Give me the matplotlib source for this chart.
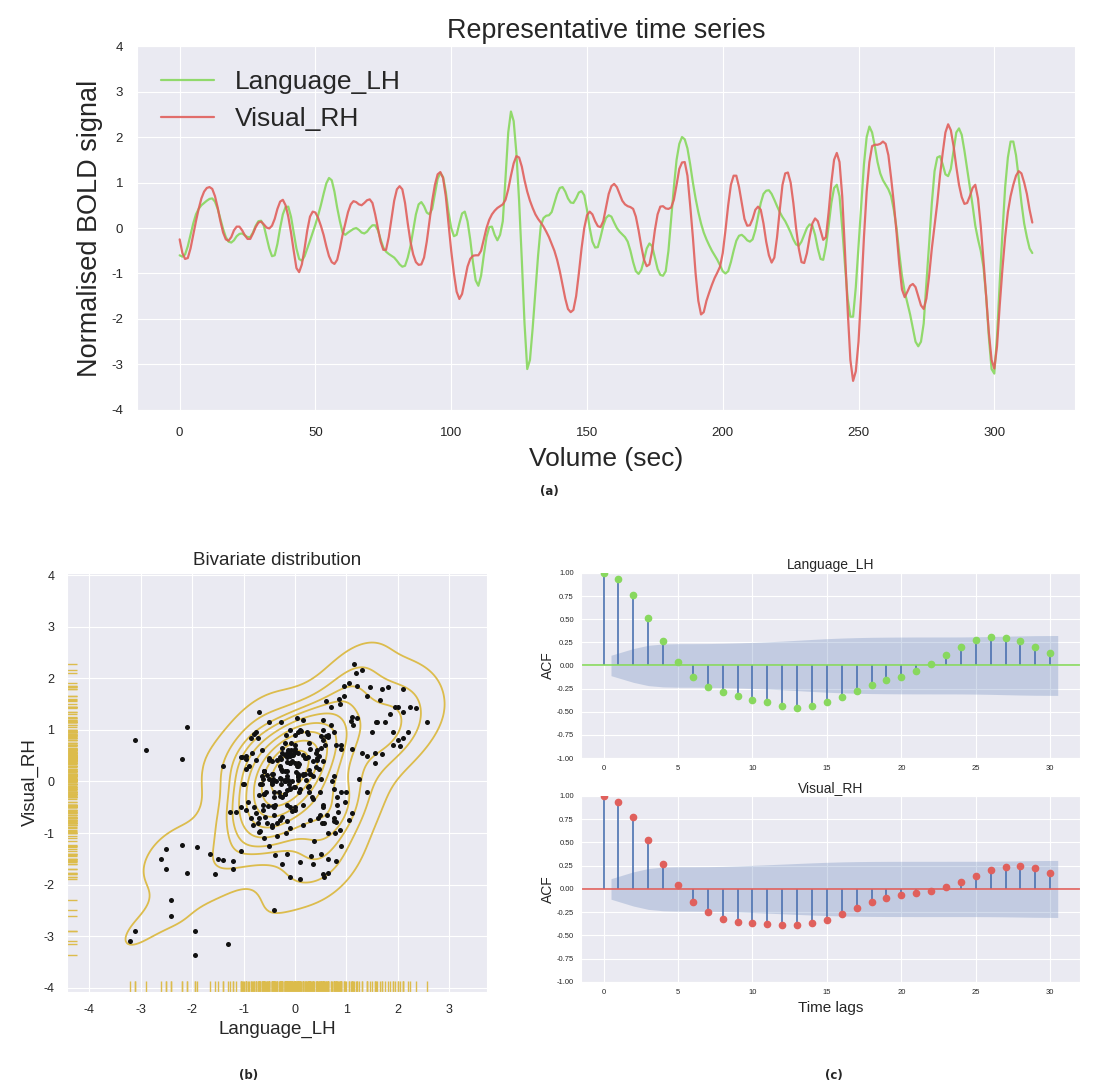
import numpy as np
import matplotlib
matplotlib.use("Agg")
import matplotlib.pyplot as plt
import seaborn as sns

# ---------------- data ----------------
volumes = list(range(315))

language_lh = [
    -0.60, -0.63, -0.58, -0.40, -0.15, 0.10, 0.30, 0.42, 0.50, 0.55,
    0.60, 0.64, 0.65, 0.58, 0.42, 0.20, -0.02, -0.20, -0.30, -0.32,
    -0.27, -0.18, -0.13, -0.12, -0.16, -0.20, -0.20, -0.10, 0.05, 0.15,
    0.16, 0.05, -0.20, -0.45, -0.62, -0.60, -0.35, 0.00, 0.30, 0.46,
    0.47, 0.25, -0.10, -0.45, -0.68, -0.72, -0.62, -0.45, -0.28, -0.10,
    0.08, 0.28, 0.50, 0.75, 0.98, 1.10, 1.05, 0.80, 0.45, 0.15,
    -0.10, -0.15, -0.10, -0.06, -0.02, 0.00, -0.04, -0.10, -0.12, -0.08,
    0.00, 0.06, 0.06, -0.05, -0.25, -0.43, -0.52, -0.57, -0.61, -0.65,
    -0.72, -0.80, -0.85, -0.83, -0.65, -0.40, -0.05, 0.30, 0.52, 0.57,
    0.48, 0.34, 0.30, 0.42, 0.75, 1.08, 1.21, 1.12, 0.80, 0.35,
    0.00, -0.18, -0.15, 0.10, 0.32, 0.36, 0.15, -0.25, -0.75, -1.15,
    -1.27, -1.05, -0.60, -0.20, 0.02, 0.03, -0.15, -0.27, -0.15, 0.15,
    1.10, 2.10, 2.56, 2.35, 1.65, 0.60, -0.70, -2.10, -3.10, -2.90,
    -2.20, -1.40, -0.60, 0.05, 0.22, 0.27, 0.28, 0.35, 0.55, 0.75,
    0.88, 0.90, 0.80, 0.65, 0.56, 0.55, 0.65, 0.78, 0.81, 0.72,
    0.40, 0.00, -0.30, -0.43, -0.42, -0.20, 0.05, 0.22, 0.28, 0.25,
    0.12, 0.00, -0.08, -0.14, -0.20, -0.30, -0.50, -0.75, -0.95, -1.01,
    -0.92, -0.70, -0.45, -0.34, -0.40, -0.65, -0.90, -1.03, -1.05, -0.95,
    -0.50, 0.20, 0.90, 1.50, 1.85, 2.00, 1.95, 1.75, 1.40, 1.00,
    0.65, 0.35, 0.10, -0.10, -0.25, -0.38, -0.50, -0.60, -0.70, -0.82,
    -0.95, -1.00, -0.95, -0.75, -0.50, -0.28, -0.17, -0.15, -0.20, -0.27,
    -0.30, -0.25, -0.05, 0.25, 0.55, 0.75, 0.82, 0.83, 0.75, 0.62,
    0.48, 0.35, 0.24, 0.15, 0.03, -0.10, -0.25, -0.36, -0.39, -0.30,
    -0.15, 0.00, 0.08, 0.05, -0.15, -0.45, -0.68, -0.70, -0.40, 0.05,
    0.55, 0.88, 0.95, 0.70, 0.00, -0.80, -1.55, -1.95, -1.95, -1.30,
    -0.40, 0.50, 1.40, 2.00, 2.23, 2.10, 1.80, 1.45, 1.20, 1.05,
    0.95, 0.85, 0.70, 0.40, 0.00, -0.55, -1.05, -1.40, -1.65, -1.90,
    -2.20, -2.50, -2.60, -2.50, -2.10, -1.20, -0.35, 0.55, 1.25, 1.55,
    1.58, 1.40, 1.18, 1.14, 1.30, 1.70, 2.10, 2.19, 2.05, 1.70,
    1.30, 0.90, 0.50, 0.05, -0.25, -0.50, -0.85, -1.50, -2.40, -3.10,
    -3.20, -2.40, -1.20, -0.10, 0.90, 1.55, 1.90, 1.90, 1.60, 1.10,
    0.55, 0.10, -0.20, -0.45, -0.55,
]

visual_rh = [
    -0.25, -0.55, -0.68, -0.66, -0.45, -0.15, 0.15, 0.42, 0.65, 0.80,
    0.88, 0.90, 0.86, 0.70, 0.45, 0.15, -0.10, -0.25, -0.28, -0.20,
    -0.05, 0.03, 0.03, -0.05, -0.16, -0.24, -0.24, -0.12, 0.02, 0.12,
    0.14, 0.08, 0.01, -0.01, 0.05, 0.20, 0.42, 0.58, 0.62, 0.50,
    0.25, -0.10, -0.50, -0.88, -0.97, -0.80, -0.45, -0.05, 0.25, 0.36,
    0.34, 0.22, 0.05, -0.15, -0.40, -0.62, -0.75, -0.79, -0.70, -0.45,
    -0.15, 0.10, 0.35, 0.52, 0.59, 0.57, 0.52, 0.50, 0.55, 0.61,
    0.63, 0.55, 0.30, 0.00, -0.30, -0.48, -0.48, -0.20, 0.20, 0.60,
    0.85, 0.92, 0.85, 0.55, 0.10, -0.30, -0.58, -0.75, -0.81, -0.80,
    -0.65, -0.30, 0.15, 0.60, 0.95, 1.18, 1.23, 1.10, 0.70, 0.10,
    -0.50, -1.00, -1.40, -1.56, -1.45, -1.15, -0.85, -0.68, -0.61, -0.60,
    -0.60, -0.50, -0.25, 0.00, 0.18, 0.30, 0.38, 0.44, 0.48, 0.52,
    0.62, 0.85, 1.15, 1.42, 1.58, 1.55, 1.35, 1.05, 0.80, 0.60,
    0.44, 0.30, 0.20, 0.12, 0.03, -0.08, -0.20, -0.35, -0.50, -0.70,
    -0.95, -1.25, -1.55, -1.78, -1.85, -1.80, -1.50, -1.00, -0.45, 0.00,
    0.28, 0.36, 0.30, 0.15, 0.04, 0.02, 0.15, 0.45, 0.75, 0.92,
    0.97, 0.90, 0.75, 0.60, 0.52, 0.48, 0.46, 0.42, 0.25, -0.05,
    -0.40, -0.70, -0.84, -0.80, -0.50, -0.05, 0.30, 0.47, 0.48, 0.43,
    0.42, 0.45, 0.62, 0.95, 1.30, 1.44, 1.45, 1.15, 0.50, -0.20,
    -1.00, -1.60, -1.90, -1.85, -1.60, -1.42, -1.25, -1.10, -0.98, -0.85,
    -0.55, -0.05, 0.50, 0.95, 1.15, 1.15, 0.90, 0.55, 0.20, 0.05,
    0.06, 0.20, 0.40, 0.47, 0.40, 0.10, -0.30, -0.60, -0.76, -0.65,
    -0.20, 0.40, 0.95, 1.20, 1.22, 1.00, 0.55, 0.00, -0.45, -0.75,
    -0.77, -0.55, -0.20, 0.10, 0.21, 0.15, -0.05, -0.26, -0.20, 0.35,
    1.00, 1.50, 1.65, 1.45, 0.70, -0.50, -1.80, -2.90, -3.36, -3.15,
    -2.50, -1.40, -0.20, 0.80, 1.45, 1.80, 1.83, 1.83, 1.85, 1.90,
    1.85, 1.60, 1.10, 0.55, -0.10, -0.80, -1.35, -1.52, -1.40, -1.27,
    -1.23, -1.30, -1.50, -1.70, -1.78, -1.55, -1.05, -0.45, 0.05, 0.55,
    1.15, 1.65, 2.10, 2.28, 2.15, 1.80, 1.35, 0.95, 0.68, 0.53,
    0.55, 0.70, 0.88, 0.95, 0.65, 0.05, -0.70, -1.50, -2.30, -2.90,
    -3.09, -2.60, -1.70, -0.90, -0.20, 0.35, 0.70, 0.95, 1.15, 1.25,
    1.20, 1.00, 0.75, 0.40, 0.12,
]

acf_lags = list(range(31))
acf_language = [1.00, 0.93, 0.76, 0.51, 0.26, 0.04, -0.13, -0.23, -0.29, -0.33,
                -0.37, -0.40, -0.44, -0.46, -0.44, -0.40, -0.34, -0.28, -0.21, -0.16,
                -0.12, -0.06, 0.02, 0.11, 0.20, 0.27, 0.31, 0.30, 0.26, 0.20, 0.13]
acf_visual = [1.00, 0.94, 0.77, 0.53, 0.27, 0.04, -0.14, -0.25, -0.32, -0.35,
              -0.37, -0.38, -0.39, -0.39, -0.37, -0.33, -0.27, -0.20, -0.14, -0.10,
              -0.07, -0.04, -0.02, 0.02, 0.08, 0.14, 0.20, 0.24, 0.25, 0.22, 0.17]

series_names = ["Language_LH", "Visual_RH"]

# ---------------- style ----------------
sns.set_style("darkgrid")
plt.rcParams['font.family'] = ['Liberation Sans', 'DejaVu Sans']
plt.rcParams['axes.unicode_minus'] = False

GREEN = "#88d85e"
RED = "#e0605c"
GOLD = "#dcbc4c"
BLUE = "#4C72B0"
TEXT = "#262626"

lh = np.array(language_lh)
rh = np.array(visual_rh)
vol = np.array(volumes)

fig = plt.figure(figsize=(10.98, 10.86), dpi=100)

# ---------------- (a) time series ----------------
ax = fig.add_axes([0.1248, 0.6225, 0.8542, 0.3351])
ax.plot(vol, lh, color=GREEN, lw=1.6, alpha=0.9, label=series_names[0])
ax.plot(vol, rh, color=RED, lw=1.6, alpha=0.9, label=series_names[1])
ax.set_ylim(-4, 4)
ax.set_yticks(np.arange(-4, 5, 1))
ax.set_xticks(np.arange(0, 301, 50))
ax.tick_params(axis="x", labelsize=9.5, colors=TEXT, length=0, pad=12)
ax.tick_params(axis="y", labelsize=9.5, colors=TEXT, length=0, pad=10)
ax.set_title("Representative time series", fontsize=19.4, color=TEXT, pad=6)
ax.set_xlabel("Volume (sec)", fontsize=19, color=TEXT, labelpad=6)
ax.set_ylabel("Normalised BOLD signal", fontsize=19.5, color=TEXT, labelpad=6)
leg = ax.legend(loc="upper left", frameon=False, fontsize=19, handlelength=2.0)
fig.text(0.5, 0.547, "(a)", ha="center", va="center", fontsize=8.5,
         fontweight="bold", family="DejaVu Sans")

# ---------------- (b) bivariate ----------------
ax2 = fig.add_axes([0.061, 0.0866, 0.3825, 0.3858])
sns.kdeplot(x=lh, y=rh, ax=ax2, levels=10, bw_adjust=1.12, color=GOLD,
            linewidths=1.3, zorder=2)
ax2.scatter(lh, rh, s=13, color="#111111", linewidths=0, zorder=3)
sns.rugplot(x=lh, ax=ax2, color=GOLD, height=0.025, lw=1.2)
sns.rugplot(y=rh, ax=ax2, color=GOLD, height=0.025, lw=1.2)
ax2.set_xlim(-4.43, 3.73)
ax2.set_ylim(-4.08, 4.04)
ax2.set_xticks(np.arange(-4, 4, 1))
ax2.set_yticks(np.arange(-4, 5, 1))
ax2.tick_params(labelsize=9, colors=TEXT, length=0, pad=9)
ax2.set_title("Bivariate distribution", fontsize=13.5, color=TEXT, pad=6)
ax2.set_xlabel(series_names[0], fontsize=13.5, color=TEXT, labelpad=3)
ax2.set_ylabel(series_names[1], fontsize=13.5, color=TEXT, labelpad=3)
fig.text(0.2268, 0.0101, "(b)", ha="center", va="center", fontsize=8.5,
         fontweight="bold", family="DejaVu Sans")

# ---------------- (c) ACF ----------------
n_obs = len(lh)


def draw_acf(axc, acf_vals, color, title, xlabel=None):
    acf_vals = np.array(acf_vals)
    lags = np.array(acf_lags, dtype=float)
    var = np.ones(len(acf_vals)) / n_obs
    var[0] = 0
    var[2:] *= 1 + 2 * np.cumsum(acf_vals[1:-1] ** 2)
    conf = 1.96 * np.sqrt(var)
    band_x = lags[1:].copy()
    band_x[0] -= 0.5
    band_x[-1] += 0.5
    axc.fill_between(band_x, -conf[1:], conf[1:], color=BLUE, alpha=0.25, lw=0)
    axc.vlines(lags, 0, acf_vals, color=BLUE, lw=1.2)
    axc.axhline(0, color=color, lw=1.2)
    axc.plot(lags, acf_vals, "o", color=color, ms=4.5, zorder=4)
    axc.set_ylim(-1, 1)
    axc.set_yticks(np.arange(-1, 1.01, 0.25))
    axc.set_yticklabels([f"{v:.2f}" for v in np.arange(-1, 1.01, 0.25)])
    axc.set_xticks(np.arange(0, 31, 5))
    axc.tick_params(labelsize=5.5, colors=TEXT, length=0, pad=5)
    axc.set_title(title, fontsize=10, color=TEXT, pad=3)
    axc.set_ylabel("ACF", fontsize=10, color=TEXT, labelpad=1)
    if xlabel:
        axc.set_xlabel(xlabel, fontsize=11, color=TEXT, labelpad=4)


ax3 = fig.add_axes([0.529, 0.302, 0.455, 0.1705])
draw_acf(ax3, acf_language, GREEN, series_names[0])
ax4 = fig.add_axes([0.529, 0.0958, 0.455, 0.1713])
draw_acf(ax4, acf_visual, RED, series_names[1], xlabel="Time lags")
fig.text(0.7596, 0.0101, "(c)", ha="center", va="center", fontsize=8.5,
         fontweight="bold", family="DejaVu Sans")

fig.savefig("out.png", dpi=100)
